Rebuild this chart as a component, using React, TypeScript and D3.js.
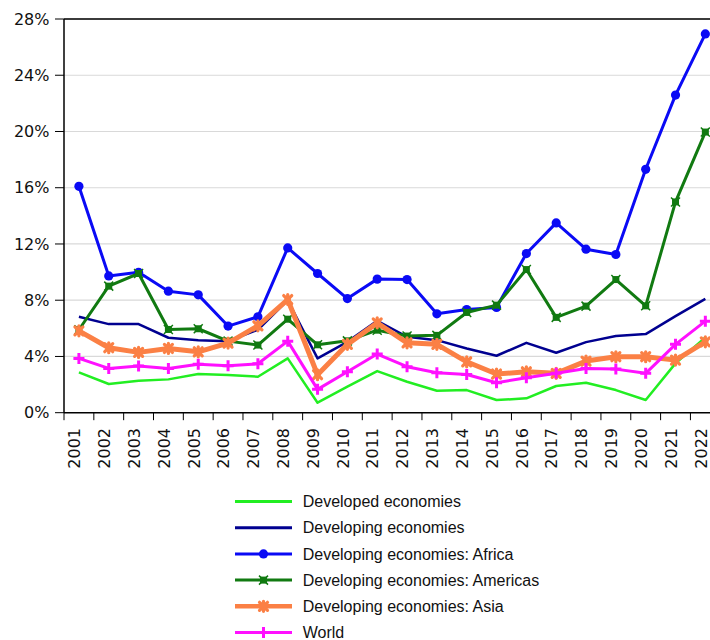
import React from "react";
import * as d3 from "d3";

const years = ["2001","2002","2003","2004","2005","2006","2007","2008","2009","2010","2011","2012","2013","2014","2015","2016","2017","2018","2019","2020","2021","2022"];
const yTicks = [0, 4, 8, 12, 16, 20, 24, 28];

const developed = [2.87,2.04,2.27,2.37,2.75,2.68,2.56,3.86,0.71,1.85,2.96,2.2,1.56,1.61,0.9,1.02,1.9,2.13,1.61,0.9,3.51,5.36];
const developing = [6.82,6.3,6.3,5.33,5.16,5.09,5.9,8.0,3.86,5.04,6.54,5.4,5.16,4.57,4.05,4.97,4.26,5.02,5.45,5.59,6.87,8.1];
const africa = [16.1,9.73,9.99,8.64,8.38,6.16,6.82,11.72,9.9,8.12,9.5,9.47,7.03,7.34,7.49,11.32,13.5,11.63,11.25,17.31,22.59,26.94];
const americas = [5.9,9.0,9.9,5.92,5.97,5.09,4.81,6.65,4.83,5.11,5.87,5.45,5.5,7.13,7.65,10.18,6.78,7.58,9.47,7.6,14.99,19.96];
const asia = [5.82,4.62,4.29,4.57,4.33,4.95,6.18,8.05,2.7,4.86,6.39,4.97,4.86,3.62,2.75,2.91,2.8,3.67,3.98,3.98,3.74,5.04];
const world = [3.86,3.15,3.32,3.15,3.44,3.34,3.48,5.09,1.66,2.91,4.17,3.27,2.84,2.72,2.13,2.49,2.8,3.15,3.1,2.8,4.86,6.51];

type Marker = "none" | "circle" | "square" | "star" | "plus";
interface Series { name: string; values: number[]; color: string; width: number; marker: Marker; }

const series: Series[] = [
  { name: "Developed economies", values: developed, color: "#22ee22", width: 2.5, marker: "none" },
  { name: "Developing economies", values: developing, color: "#000090", width: 2.5, marker: "none" },
  { name: "Developing economies: Africa", values: africa, color: "#0a0af5", width: 3, marker: "circle" },
  { name: "Developing economies: Americas", values: americas, color: "#117a11", width: 3, marker: "square" },
  { name: "Developing economies: Asia", values: asia, color: "#fb8045", width: 5, marker: "star" },
  { name: "World", values: world, color: "#ff10ff", width: 3, marker: "plus" },
];

const left = 64;
const top = 19;
const bottom = 412.7;
const step = 29.83;

const MarkerShape = ({ type, cx, cy, color }: { type: Marker; cx: number; cy: number; color: string }) => {
  if (type === "circle") return <circle cx={cx} cy={cy} r={4.6} fill={color} />;
  if (type === "square")
    return (
      <g>
        <rect x={cx - 3.5} y={cy - 3.5} width={7} height={7} fill={color} />
        <path d={`M${cx - 4.5},${cy - 4.5}L${cx + 4.5},${cy + 4.5}M${cx - 4.5},${cy + 4.5}L${cx + 4.5},${cy - 4.5}`} stroke={color} strokeWidth={1.5} />
      </g>
    );
  if (type === "star")
    return (
      <g stroke={color} strokeWidth={3.2} strokeLinecap="round">
        <path d={`M${cx - 4},${cy - 4}L${cx + 4},${cy + 4}M${cx - 4},${cy + 4}L${cx + 4},${cy - 4}M${cx},${cy - 5}L${cx},${cy + 5}`} />
        <circle cx={cx} cy={cy} r={3.2} fill={color} stroke="none" />
      </g>
    );
  if (type === "plus")
    return (
      <path d={`M${cx - 5.5},${cy}L${cx + 5.5},${cy}M${cx},${cy - 5.5}L${cx},${cy + 5.5}`} stroke={color} strokeWidth={3} />
    );
  return null;
};

export default function App() {
  const x = d3.scaleBand<string>().domain(years).range([left, left + step * years.length]).padding(0);
  const y = d3.scaleLinear().domain([0, 28]).range([bottom, top]);
  const bw = x.bandwidth();
  const cx = (yr: string) => (x(yr) as number) + bw / 2;
  const right = left + step * years.length;

  const line = d3
    .line<number>()
    .x((_, i) => cx(years[i]))
    .y((d) => y(d));

  const legendTop = 501.5;
  const legendStep = 26.2;

  return (
    <div style={{ position: "absolute", left: 0, top: 0 }}>
      <svg width={710} height={640} style={{ display: "block", background: "#fff" }}>
        {yTicks.filter((t) => t > 0).map((t) => (
          <line key={`g${t}`} x1={left} x2={right} y1={y(t)} y2={y(t)} stroke="#d9d9d9" strokeWidth={1.2} />
        ))}
        <line x1={left} x2={right} y1={top} y2={top} stroke="#000" strokeWidth={1.5} />
        <line x1={left} x2={left} y1={top} y2={bottom} stroke="#000" strokeWidth={1.5} />
        {yTicks.map((t) => (
          <g key={`yt${t}`}>
            <line x1={left - 9} x2={left} y1={y(t)} y2={y(t)} stroke="#000" strokeWidth={1} />
            <text x={49.5} y={y(t)} dy="0.36em" textAnchor="end" fontFamily="'DejaVu Sans', sans-serif" fontSize={16} fill="#111">
              {`${t}%`}
            </text>
          </g>
        ))}
        <line x1={left} x2={right} y1={bottom} y2={bottom} stroke="#000" strokeWidth={1.5} />
        {years.map((yr) => (
          <line key={`xt${yr}`} x1={x(yr) as number} x2={x(yr) as number} y1={bottom} y2={bottom + 7.5} stroke="#000" strokeWidth={1} />
        ))}
        {years.map((yr) => (
          <text
            key={`xl${yr}`}
            transform={`translate(${cx(yr) - 4.5},428) rotate(-90)`}
            dy="0.36em"
            textAnchor="end"
            fontFamily="'DejaVu Sans', sans-serif"
            fontSize={16}
            fill="#111"
          >
            {yr}
          </text>
        ))}
        {series.map((s) => (
          <g key={s.name}>
            <path d={line(s.values) || ""} fill="none" stroke={s.color} strokeWidth={s.width} strokeLinejoin="round" />
            {s.marker !== "none" &&
              s.values.map((v, i) => <MarkerShape key={i} type={s.marker} cx={cx(years[i])} cy={y(v)} color={s.color} />)}
          </g>
        ))}
        {series.map((s, i) => {
          const ly = legendTop + i * legendStep;
          return (
            <g key={`lg${s.name}`}>
              <line x1={235} x2={292} y1={ly} y2={ly} stroke={s.color} strokeWidth={s.width === 5 ? 4.5 : 3} />
              {s.marker !== "none" && <MarkerShape type={s.marker} cx={263.5} cy={ly} color={s.color} />}
              <text x={302.7} y={ly} dy="0.35em" fontFamily="'Liberation Sans', Arial, sans-serif" fontSize={16} fill="#111">
                {s.name}
              </text>
            </g>
          );
        })}
      </svg>
    </div>
  );
}
